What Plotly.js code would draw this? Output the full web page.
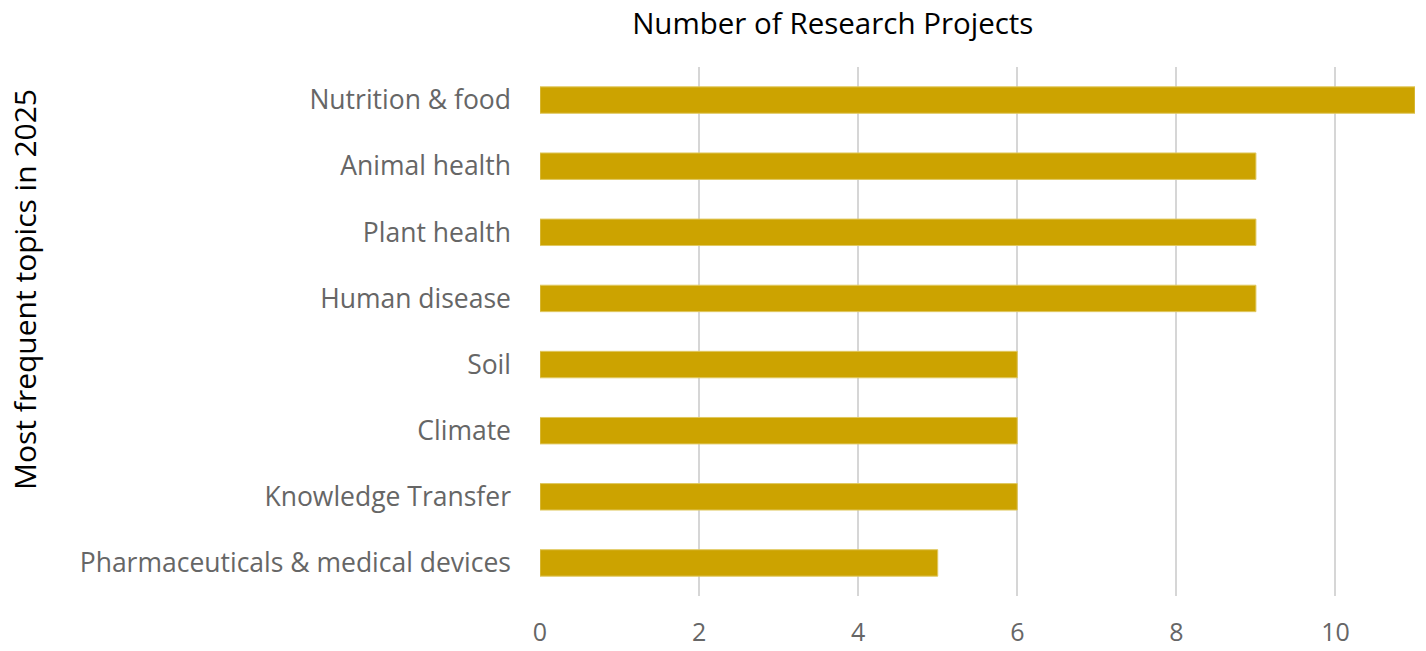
<!DOCTYPE html>
<html>
<head>
<meta charset="utf-8">
<script src="https://cdn.plot.ly/plotly-3.0.1.min.js"></script>
<style>html,body{margin:0;padding:0;background:#fff;}#chart{width:1426px;height:651px;}</style>
</head>
<body>
<div id="chart"></div>
<script>
const topics = ["Nutrition & food", "Animal health", "Plant health", "Human disease", "Soil", "Climate", "Knowledge Transfer", "Pharmaceuticals & medical devices"];
const projects = [11, 9, 9, 9, 6, 6, 6, 5];
const xTicks = [0, 2, 4, 6, 8, 10];

const FONT = "Open Sans, Noto Sans, sans-serif";

const trace = {
  type: "bar",
  orientation: "h",
  y: topics,
  x: projects,
  width: 0.4,
  marker: { color: "#CCA300", line: { color: "#E0C860", width: 1 } },
  hoverinfo: "x+y"
};

const layout = {
  width: 1426,
  height: 651,
  margin: { l: 540, r: 11, t: 67, b: 55 },
  paper_bgcolor: "#ffffff",
  plot_bgcolor: "#ffffff",
  font: { family: FONT, color: "#666666" },
  showlegend: false,
  title: {
    text: "Number of Research Projects",
    font: { family: FONT, size: 29.5, color: "#000000" },
    x: 0.584, xanchor: "center",
    y: 0.963, yanchor: "middle", yref: "container"
  },
  xaxis: {
    range: [0, 11],
    tickvals: xTicks,
    ticktext: xTicks.map(String),
    showgrid: true,
    gridcolor: "#d6d6d6",
    gridwidth: 1.5,
    zeroline: false,
    showline: false,
    ticks: "",
    ticklabelstandoff: 19,
    tickfont: { family: FONT, size: 25, color: "#666666" },
    fixedrange: true
  },
  yaxis: {
    type: "category",
    autorange: "reversed",
    categoryorder: "array",
    categoryarray: topics,
    showgrid: false,
    zeroline: false,
    showline: false,
    ticks: "",
    ticklabelstandoff: 28,
    tickfont: { family: FONT, size: 26.5, color: "#666666" },
    automargin: false,
    fixedrange: true
  },
  annotations: [{
    text: "Most frequent topics in 2025",
    xref: "paper", yref: "paper",
    x: (24 - 540) / 875, y: (596 - 290) / 529,
    xanchor: "center", yanchor: "middle",
    textangle: -90,
    showarrow: false,
    font: { family: FONT, size: 30, color: "#000000" }
  }]
};

Plotly.newPlot("chart", [trace], layout, { displayModeBar: false });
</script>
</body>
</html>
